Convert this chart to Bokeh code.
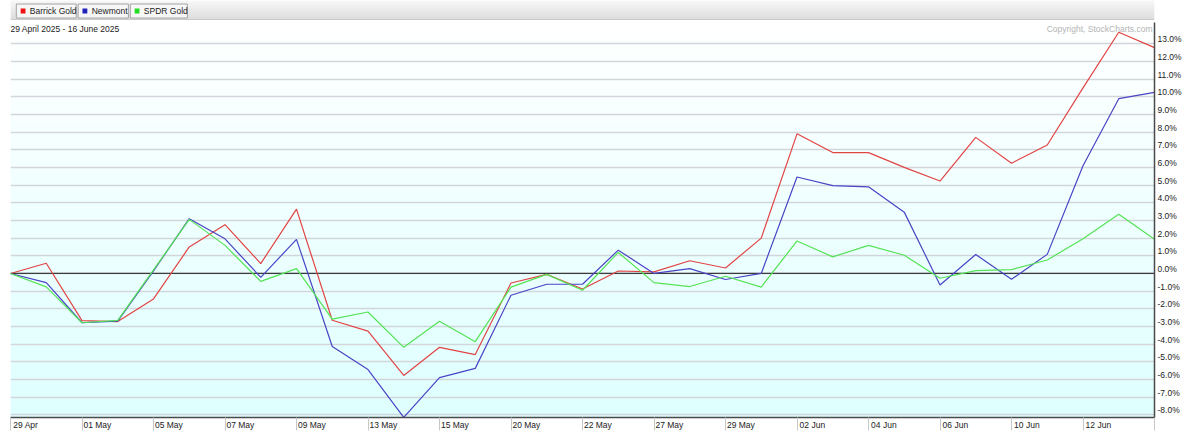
import numpy as np
from bokeh.plotting import figure
from bokeh.models import Range1d, FixedTicker, CustomJSTickFormatter, Span, Label
from bokeh.layouts import column
from bokeh.embed import file_html
from bokeh.resources import INLINE
from bokeh.core.properties import value

# ---------------- data ----------------
dates = ["29 Apr", "30 Apr", "01 May", "02 May", "05 May", "06 May", "07 May", "08 May",
         "09 May", "12 May", "13 May", "14 May", "15 May", "16 May", "20 May", "21 May",
         "22 May", "23 May", "27 May", "28 May", "29 May", "30 May", "02 Jun", "03 Jun",
         "04 Jun", "05 Jun", "06 Jun", "09 Jun", "10 Jun", "11 Jun", "12 Jun", "13 Jun",
         "16 Jun"]

barrick = [0.0, 0.58, -2.67, -2.72, -1.44, 1.50, 2.76, 0.56, 3.64, -2.65, -3.26, -5.77,
           -4.18, -4.59, -0.54, -0.05, -0.88, 0.14, 0.09, 0.72, 0.31, 2.00, 7.90, 6.84,
           6.84, 6.00, 5.23, 7.70, 6.24, 7.27, 10.50, 13.65, 12.78]

newmont = [0.0, -0.52, -2.79, -2.70, 0.15, 3.10, 1.96, -0.22, 1.93, -4.13, -5.44, -8.14,
           -5.89, -5.37, -1.23, -0.61, -0.61, 1.32, 0.00, 0.27, -0.34, 0.00, 5.46, 4.97,
           4.90, 3.47, -0.65, 1.07, -0.33, 1.08, 6.09, 9.89, 10.25]

spdr = [0.0, -0.76, -2.79, -2.65, 0.20, 3.06, 1.59, -0.45, 0.27, -2.58, -2.18, -4.18,
        -2.70, -3.86, -0.77, -0.05, -0.95, 1.19, -0.52, -0.74, -0.16, -0.77, 1.84, 0.94,
        1.59, 1.03, -0.27, 0.16, 0.22, 0.76, 1.97, 3.35, 1.93]

series_names = ["Barrick Gold", "Newmont", "SPDR Gold"]
line_colors = ["#e24444", "#4a44c4", "#55e355"]
swatch_colors = ["#ee1111", "#2222bb", "#22dd22"]

pct_ticks = list(range(-8, 14))
date_ticks = list(range(0, len(dates), 2))
title_text = "29 April 2025 - 16 June 2025"
copyright_text = "Copyright, StockCharts.com"

# ---------------- style ----------------
FONT = "Liberation Sans"
FS = "8.5px"
W = 1184
HDR_H = 20
MAIN_H = 412
Y_MIN, Y_MAX = -8.15, 14.2
X_MIN, X_MAX = 0, len(dates) - 1
LABEL_LIFT = 0.25     # y labels sit slightly above their grid line
LABEL_SHIFT = 0.43    # x labels sit to the right of their separator


def gradient(rows, top_rgb, bottom_rgb):
    t = np.linspace(0.0, 1.0, rows)[:, None]
    b = np.array(bottom_rgb, float)
    tp = np.array(top_rgb, float)
    rgb = b + (tp - b) * t
    img = np.empty((rows, 1), dtype=np.uint32)
    v = img.view(dtype=np.uint8).reshape((rows, 1, 4))
    v[:, 0, 0:3] = np.round(rgb).astype(np.uint8)
    v[:, 0, 3] = 255
    return img


# ---------------- header bar with legend buttons ----------------
hdr = figure(width=W, height=HDR_H, x_range=Range1d(0, W), y_range=Range1d(0, HDR_H),
             toolbar_location=None, output_backend="svg", x_axis_type=None, y_axis_type=None,
             min_border=0, outline_line_color=None)
hdr.image_rgba(image=[gradient(HDR_H * 2, (248, 248, 248), (220, 220, 220))],
               x=0, y=0, dw=W, dh=HDR_H)
hdr.segment(x0=0, y0=0.5, x1=W, y1=0.5, line_color="#b8b8b8", line_width=1)

btn_left = [6, 70, 124]
btn_right = [68, 122, 183]
hdr.quad(left=btn_left, right=btn_right, bottom=2.5, top=16.5,
         fill_color="#f7f7f7", line_color="#a4a4a4", line_width=1)
hdr.rect(x=[l + 7 for l in btn_left], y=9.5, width=5, height=5,
         fill_color=swatch_colors, line_color=None)
hdr.text(x=[l + 14 for l in btn_left], y=9.5, text=series_names,
         text_baseline="middle", text_align="left", text_font=value(FONT),
         text_font_size=FS, text_color="#222222")

# ---------------- main chart ----------------
p = figure(width=W, height=MAIN_H, x_range=Range1d(X_MIN, X_MAX), y_range=Range1d(Y_MIN, Y_MAX),
           y_axis_location="right", toolbar_location=None, output_backend="svg",
           min_border_left=10, min_border_right=26, min_border_top=2, min_border_bottom=13,
           outline_line_color=None, background_fill_color="white", border_fill_color="white")

p.image_rgba(image=[gradient(400, (255, 255, 255), (222, 255, 255))],
             x=X_MIN, y=Y_MIN, dw=X_MAX - X_MIN, dh=Y_MAX - Y_MIN, level="image")

p.xgrid.visible = False
p.ygrid.ticker = FixedTicker(ticks=pct_ticks)
p.ygrid.grid_line_color = "#d2d6da"
p.ygrid.grid_line_width = 1.5

p.add_layout(Span(location=0, dimension="width", line_color="#3c3c3c", line_width=1.3,
                  level="underlay"))

xs = list(range(len(dates)))
for vals, col in zip([barrick, newmont, spdr], line_colors):
    p.line(x=xs, y=vals, line_color=col, line_width=1.2)

# right axis
yax = p.yaxis[0]
yax.ticker = FixedTicker(ticks=[t + LABEL_LIFT for t in pct_ticks])
yax.formatter = CustomJSTickFormatter(args=dict(lift=LABEL_LIFT),
                                      code="return Math.round(tick - lift).toFixed(1) + '%';")
yax.major_tick_in = 0
yax.major_tick_out = 0
yax.minor_tick_in = 0
yax.minor_tick_out = 0
yax.axis_line_color = "#4a4a4a"
yax.axis_line_width = 1.5
yax.major_label_text_font = FONT
yax.major_label_text_font_size = FS
yax.major_label_text_color = "#222222"
yax.major_label_standoff = 3

# bottom axis
xax = p.xaxis[0]
xax.ticker = FixedTicker(ticks=[i + LABEL_SHIFT for i in date_ticks],
                         minor_ticks=list(range(0, len(dates), 2)))
xax.formatter = CustomJSTickFormatter(args=dict(labels=dates, shift=LABEL_SHIFT),
                                      code="return labels[Math.round(tick - shift)] || '';")
xax.major_tick_in = 0
xax.major_tick_out = 0
xax.minor_tick_in = 0
xax.minor_tick_out = 13
xax.minor_tick_line_color = "#c8c8c8"
xax.axis_line_color = "#4a4a4a"
xax.axis_line_width = 1.5
xax.major_label_text_font = FONT
xax.major_label_text_font_size = FS
xax.major_label_text_color = "#222222"
xax.major_label_standoff = -11

p.add_layout(Label(x=X_MIN, y=Y_MAX, text=title_text, text_align="left", text_baseline="top",
                   text_font=FONT, text_font_size=FS, text_color="#222222", y_offset=-1))
p.add_layout(Label(x=X_MAX, y=Y_MAX, text=copyright_text, text_align="right",
                   text_baseline="top", text_font=FONT, text_font_size=FS,
                   text_color="#b4b4b4", x_offset=-2, y_offset=-1))

layout = column(hdr, p, spacing=0)
open("out.html", "w").write(file_html(layout, INLINE))
